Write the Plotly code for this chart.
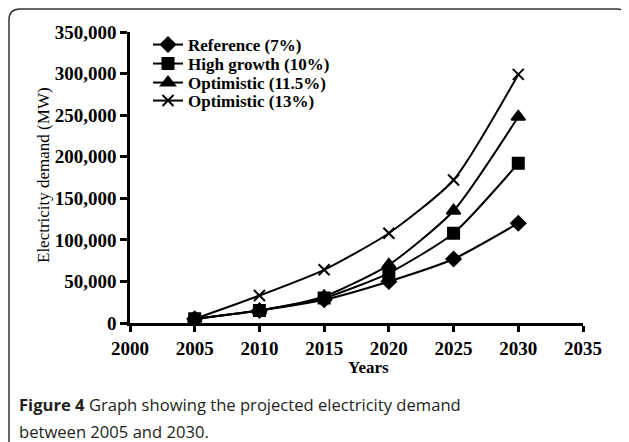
import plotly.graph_objects as go

years = [2005, 2010, 2015, 2020, 2025, 2030]
reference_7 = [5000, 15000, 28000, 50000, 77000, 120000]
high_growth_10 = [5000, 15000, 30000, 60000, 108000, 192000]
optimistic_115 = [5000, 15000, 32000, 70000, 135000, 248000]
optimistic_13 = [5000, 33000, 64000, 108000, 172000, 299000]

series_names = ["Reference (7%)", "High growth (10%)", "Optimistic (11.5%)", "Optimistic (13%)"]
series_values = [reference_7, high_growth_10, optimistic_115, optimistic_13]
symbols = ["diamond", "square", "triangle-up", "x-thin-open"]
sizes = [11, 11, 12, 11]

x_ticks = [2000, 2005, 2010, 2015, 2020, 2025, 2030, 2035]
y_ticks = [0, 50000, 100000, 150000, 200000, 250000, 300000, 350000]
y_tick_labels = ["0", "50,000", "100,000", "150,000", "200,000", "250,000", "300,000", "350,000"]

# the page body has an 8px margin, so figure coords = screen coords - 8
OFF = 8
W, H = 629 - OFF, 442 - OFF
L, R, T, B = 130 - OFF, 629 - 583, 32 - OFF, H - (323 - OFF)
pw, ph = W - L - R, H - T - B

def px(x):
    return (x - OFF - L) / pw

def py(y):
    return (H - B - (y - OFF)) / ph

legend_ids = ["legend", "legend2", "legend3", "legend4"]
legend_rows = [45, 64, 83, 101]

serif = "Liberation Serif"
fig = go.Figure()
for name, vals, sym, sz, lid in zip(series_names, series_values, symbols, sizes, legend_ids):
    fig.add_trace(go.Scatter(
        x=years, y=vals, name=name, mode="lines+markers", legend=lid,
        line=dict(color="black", width=2, shape="spline", smoothing=0.6),
        marker=dict(symbol=sym, size=sz, color="black",
                    line=dict(color="black", width=2)),
    ))

legend_layout = {}
for lid, ry in zip(legend_ids, legend_rows):
    legend_layout[lid] = dict(
        x=px(148), y=py(ry), xanchor="left", yanchor="middle",
        font=dict(family=serif, size=17, color="black", weight="bold"),
        bgcolor="rgba(0,0,0,0)", borderwidth=0, itemwidth=30,
    )

fig.update_layout(
    width=W, height=H,
    margin=dict(l=L, r=R, t=T, b=B),
    paper_bgcolor="white", plot_bgcolor="white",
    showlegend=True,
    xaxis=dict(range=[2000, 2035], tickvals=x_ticks, showgrid=False, zeroline=False,
               showline=True, linecolor="black", linewidth=2.5,
               ticks="outside", ticklen=6, tickwidth=2.5, tickcolor="black",
               tickfont=dict(family=serif, size=19, color="black", weight="bold")),
    yaxis=dict(range=[0, 350000], tickvals=y_ticks, ticktext=y_tick_labels,
               showgrid=False, zeroline=False,
               showline=True, linecolor="black", linewidth=2.5,
               ticks="outside", ticklen=7, tickwidth=2.5, tickcolor="black",
               tickfont=dict(family=serif, size=19, color="black", weight="bold")),
    **legend_layout,
)

# axis titles
fig.add_annotation(xref="paper", yref="paper", x=px(43), y=py(175), textangle=-90,
                   text="Electricity demand (MW)", showarrow=False,
                   xanchor="center", yanchor="middle",
                   font=dict(family=serif, size=17, color="black"))
fig.add_annotation(xref="paper", yref="paper", x=px(368), y=py(367),
                   text="Years", showarrow=False, xanchor="center", yanchor="middle",
                   font=dict(family=serif, size=17, color="black", weight="bold"))

# rounded frame around figure
x0, y0, x1, y1, r = 9, 9, 628, 470, 11
path = (f"M {px(x0)},{py(y1)} L {px(x0)},{py(y0 + r)} "
        f"Q {px(x0)},{py(y0)} {px(x0 + r)},{py(y0)} "
        f"L {px(x1 - r)},{py(y0)} Q {px(x1)},{py(y0)} {px(x1)},{py(y0 + r)} "
        f"L {px(x1)},{py(y1)}")
fig.add_shape(type="path", xref="paper", yref="paper", path=path,
              line=dict(color="#333333", width=1.5), layer="above")

caption_lines = ["<b>Figure 4</b> Graph showing the projected electricity demand",
                 "between 2005 and 2030."]
for line, cy in zip(caption_lines, [405, 431]):
    fig.add_annotation(
        xref="paper", yref="paper", x=px(17), y=py(cy), xanchor="left", yanchor="middle",
        align="left", showarrow=False, text=line,
        font=dict(family="Open Sans", size=16.6, color="#231f20"),
    )

fig.write_html("out.html")
